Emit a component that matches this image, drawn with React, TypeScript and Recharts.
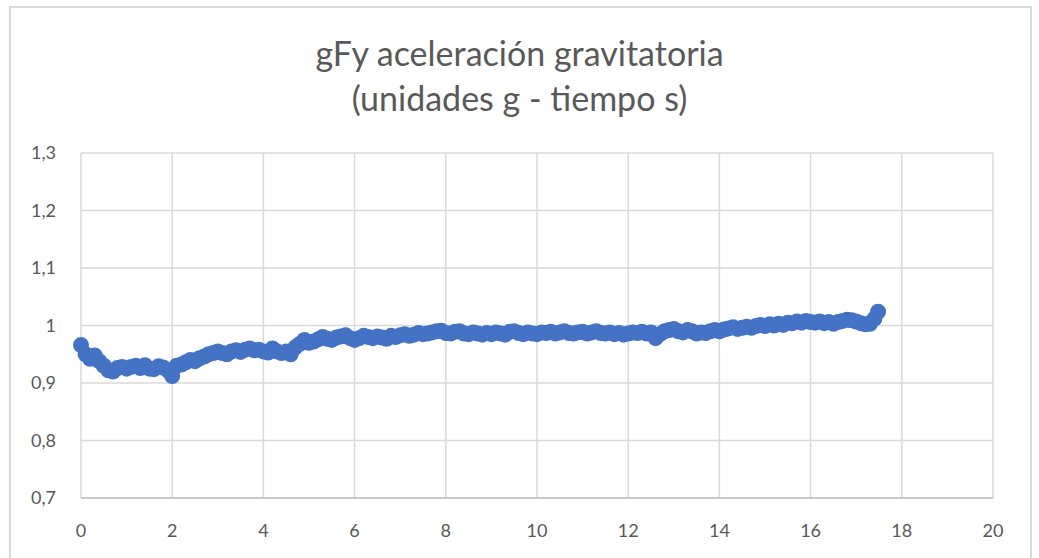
import React from "react";
import { ScatterChart, Scatter, XAxis, YAxis, CartesianGrid } from "recharts";

const times: number[] = [
  0.0, 0.1, 0.2, 0.3, 0.4, 0.5, 0.6, 0.7, 0.8, 0.9,
  1.0, 1.1, 1.2, 1.3, 1.4, 1.5, 1.6, 1.7, 1.8, 1.9,
  2.0, 2.1, 2.2, 2.3, 2.4, 2.5, 2.6, 2.7, 2.8, 2.9,
  3.0, 3.1, 3.2, 3.3, 3.4, 3.5, 3.6, 3.7, 3.8, 3.9,
  4.0, 4.1, 4.2, 4.3, 4.4, 4.5, 4.6, 4.7, 4.8, 4.9,
  5.0, 5.1, 5.2, 5.3, 5.4, 5.5, 5.6, 5.7, 5.8, 5.9,
  6.0, 6.1, 6.2, 6.3, 6.4, 6.5, 6.6, 6.7, 6.8, 6.9,
  7.0, 7.1, 7.2, 7.3, 7.4, 7.5, 7.6, 7.7, 7.8, 7.9,
  8.0, 8.1, 8.2, 8.3, 8.4, 8.5, 8.6, 8.7, 8.8, 8.9,
  9.0, 9.1, 9.2, 9.3, 9.4, 9.5, 9.6, 9.7, 9.8, 9.9,
  10.0, 10.1, 10.2, 10.3, 10.4, 10.5, 10.6, 10.7, 10.8, 10.9,
  11.0, 11.1, 11.2, 11.3, 11.4, 11.5, 11.6, 11.7, 11.8, 11.9,
  12.0, 12.1, 12.2, 12.3, 12.4, 12.5, 12.6, 12.7, 12.8, 12.9,
  13.0, 13.1, 13.2, 13.3, 13.4, 13.5, 13.6, 13.7, 13.8, 13.9,
  14.0, 14.1, 14.2, 14.3, 14.4, 14.5, 14.6, 14.7, 14.8, 14.9,
  15.0, 15.1, 15.2, 15.3, 15.4, 15.5, 15.6, 15.7, 15.8, 15.9,
  16.0, 16.1, 16.2, 16.3, 16.4, 16.5, 16.6, 16.7, 16.8, 16.9,
  17.0, 17.1, 17.2, 17.3, 17.4, 17.48,
];

const gFy: number[] = [
  0.966, 0.950, 0.942, 0.948, 0.938, 0.930, 0.922, 0.920, 0.926, 0.928,
  0.925, 0.928, 0.930, 0.926, 0.931, 0.925, 0.924, 0.929, 0.927, 0.922,
  0.912, 0.930, 0.932, 0.936, 0.940, 0.938, 0.943, 0.946, 0.950, 0.952,
  0.955, 0.952, 0.950, 0.955, 0.957, 0.954, 0.958, 0.960, 0.957, 0.958,
  0.955, 0.953, 0.960, 0.955, 0.952, 0.955, 0.950, 0.962, 0.968, 0.975,
  0.970, 0.972, 0.976, 0.980, 0.977, 0.975, 0.979, 0.981, 0.983, 0.978,
  0.975, 0.978, 0.982, 0.980, 0.978, 0.981, 0.979, 0.977, 0.982, 0.980,
  0.983, 0.985, 0.982, 0.984, 0.987, 0.985, 0.986, 0.988, 0.990, 0.991,
  0.987, 0.986, 0.989, 0.990, 0.986, 0.985, 0.988, 0.986, 0.984, 0.987,
  0.985, 0.988, 0.986, 0.984, 0.989, 0.990, 0.987, 0.985, 0.988, 0.986,
  0.985, 0.988, 0.987, 0.989, 0.986, 0.988, 0.990, 0.987, 0.986, 0.988,
  0.989, 0.986, 0.988, 0.990, 0.987, 0.986, 0.988, 0.985, 0.987, 0.984,
  0.986, 0.988, 0.987, 0.989, 0.986, 0.988, 0.978, 0.985, 0.990, 0.992,
  0.994, 0.990, 0.988, 0.992, 0.990, 0.986, 0.988, 0.987, 0.990, 0.992,
  0.990, 0.993, 0.995, 0.997, 0.994, 0.996, 0.998, 0.996, 0.999, 1.001,
  0.999, 1.002, 1.000, 1.003, 1.001, 1.005, 1.004, 1.007, 1.005, 1.008,
  1.006, 1.005, 1.007, 1.004, 1.006, 1.003, 1.006, 1.008, 1.010, 1.009,
  1.007, 1.004, 1.002, 1.003, 1.012, 1.024,
];

const xTicks = [0, 2, 4, 6, 8, 10, 12, 14, 16, 18, 20];
const yTicks = [0.7, 0.8, 0.9, 1.0, 1.1, 1.2, 1.3];
const titleLines = ["gFy aceleración gravitatoria", "(unidades g - tiempo s)"];

const data = times.map((t, i) => ({ t, g: gFy[i] }));

const fmt = (v: number) => String(Math.round(v * 10) / 10).replace(".", ",");

const Dot = (props: any) => {
  const { cx, cy } = props;
  if (cx == null || cy == null) return null;
  return <circle cx={cx} cy={cy} r={8} fill="#4472C4" />;
};

export default function App() {
  const font = "Lato, 'Open Sans', sans-serif";
  return (
    <div style={{ position: "absolute", left: 0, top: 0, width: 1039, height: 558, background: "#fff", overflow: "hidden" }}>
      <div style={{ position: "absolute", left: 9, top: 6, width: 1023, height: 600, border: "2px solid #d9d9d9", boxSizing: "border-box" }} />
      <div style={{ position: "absolute", left: 0, top: 0, width: 1039, height: 558 }}>
        <ScatterChart width={1039} height={558} margin={{ top: 153, right: 46, bottom: 20, left: 21 }}>
          <CartesianGrid stroke="#d9d9d9" strokeWidth={1.5} />
          <XAxis
            type="number"
            dataKey="t"
            domain={[0, 20]}
            ticks={xTicks}
            tickLine={false}
            axisLine={{ stroke: "#bfbfbf", strokeWidth: 1.5 }}
            tickMargin={20}
            height={40}
            tick={{ fill: "#595959", fontSize: 18, fontFamily: font }}
            interval={0}
          />
          <YAxis
            type="number"
            dataKey="g"
            domain={[0.7, 1.3]}
            ticks={yTicks}
            tickFormatter={fmt}
            tickLine={false}
            axisLine={false}
            tickMargin={19}
            width={60}
            tick={{ fill: "#595959", fontSize: 18, fontFamily: font }}
            interval={0}
          />
          <Scatter data={data} isAnimationActive={false} shape={<Dot />} />
        </ScatterChart>
      </div>
      {titleLines.map((line, i) => (
        <div
          key={i}
          style={{
            position: "absolute",
            left: 0,
            width: 1039,
            top: 34 + i * 45,
            textAlign: "center",
            fontFamily: font,
            fontWeight: 400,
            fontSize: 34,
            color: "#595959",
            lineHeight: "38px",
            whiteSpace: "nowrap",
          }}
        >
          {line}
        </div>
      ))}
    </div>
  );
}
